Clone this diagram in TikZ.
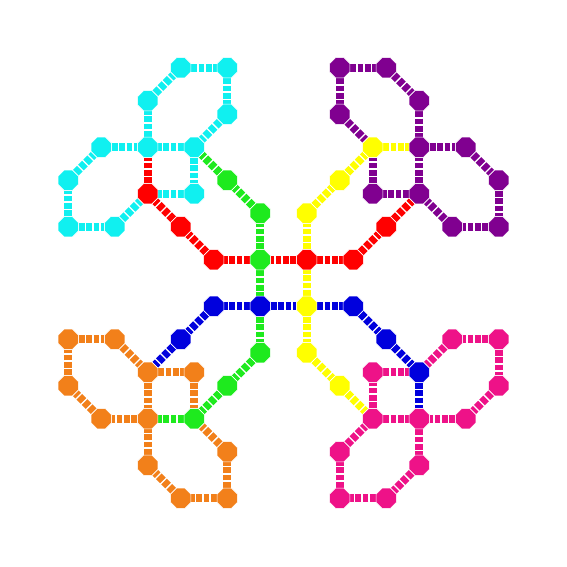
\documentclass[tikz,border=0pt]{standalone}
\usetikzlibrary{shapes.geometric}
\pgfdeclarelayer{bg}
\pgfsetlayers{bg,main}
\definecolor{cR}{HTML}{FF0000}
\definecolor{cG}{HTML}{1EEA1E}
\definecolor{cY}{HTML}{FFFF00}
\definecolor{cB}{HTML}{0000DD}
\definecolor{cC}{HTML}{10F0F0}
\definecolor{cP}{HTML}{800090}
\definecolor{cO}{HTML}{F2801A}
\definecolor{cK}{HTML}{EE1288}
\tikzset{
  oct/.style={regular polygon,regular polygon sides=8,minimum size=22pt,inner sep=0pt,draw=white,line width=0.6pt},
  link/.style={line width=8pt,dash pattern=on 5.8pt off 1.6pt}
}
% #1 rotation, #2 prefix, #3 petal colour, #4 A colour, #5 B colour
\newcommand{\petalnodes}[5]{%
  \begin{scope}[rotate=#1]
    \node[oct,fill=#4] (#2c0) at (23.25,23.25) {};
    \node[oct,fill=#4] (#2a1) at (69.75,23.25) {};
    \node[oct,fill=#4] (#2a2) at (102.75,56.25) {};
    \node[oct,fill=#3] (#2aE) at (135.75,89.25) {};
    \node[oct,fill=#5] (#2b1) at (23.25,69.75) {};
    \node[oct,fill=#5] (#2b2) at (56.25,102.75) {};
    \node[oct,fill=#5] (#2bE) at (89.25,135.75) {};
    \node[oct,fill=#3] (#2p1) at (56.25,215.25) {};
    \node[oct,fill=#3] (#2p2) at (102.75,215.25) {};
    \node[oct,fill=#3] (#2p3) at (135.75,182.25) {};
    \node[oct,fill=#3] (#2p4) at (56.25,168.75) {};
    \node[oct,fill=#3] (#2p5) at (135.75,135.75) {};
    \node[oct,fill=#3] (#2p6) at (182.25,135.75) {};
    \node[oct,fill=#3] (#2p7) at (215.25,102.75) {};
    \node[oct,fill=#3] (#2p8) at (89.25,89.25) {};
    \node[oct,fill=#3] (#2p9) at (168.75,56.25) {};
    \node[oct,fill=#3] (#2p10) at (215.25,56.25) {};
  \end{scope}}
% #1 prefix, #2 previous prefix, #3 petal colour, #4 A colour, #5 B colour
\newcommand{\petaledges}[5]{%
  \draw[link,#4] (#1c0) -- (#1a1);
  \draw[link,#4] (#1a1) -- (#1a2);
  \draw[link,#4] (#1a2) -- (#1aE);
  \draw[link,#5] (#2c0) -- (#1c0);
  \draw[link,#5] (#1c0) -- (#1b1);
  \draw[link,#5] (#1b1) -- (#1b2);
  \draw[link,#5] (#1b2) -- (#1bE);
  \draw[link,#5] (#1bE) -- (#1p5);
  \draw[link,#3] (#1p1) -- (#1p2);
  \draw[link,#3] (#1p2) -- (#1p3);
  \draw[link,#3] (#1p3) -- (#1p5);
  \draw[link,#3] (#1p1) -- (#1p4);
  \draw[link,#3] (#1p4) -- (#1bE);
  \draw[link,#3] (#1p5) -- (#1p6);
  \draw[link,#3] (#1p6) -- (#1p7);
  \draw[link,#3] (#1p7) -- (#1p10);
  \draw[link,#3] (#1p10) -- (#1p9);
  \draw[link,#3] (#1p9) -- (#1aE);
  \draw[link,#3] (#1aE) -- (#1p5);
  \draw[link,#3] (#1aE) -- (#1p8);
  \draw[link,#3] (#1p8) -- (#1bE);}
\begin{document}
\begin{tikzpicture}[x=1pt,y=1pt]
  \useasboundingbox (-283.5,-284) rectangle (283.5,283);
  \petalnodes{0}{tr}{cP}{cR}{cY}
  \petalnodes{90}{tl}{cC}{cG}{cR}
  \petalnodes{180}{bl}{cO}{cB}{cG}
  \petalnodes{270}{br}{cK}{cY}{cB}
  \begin{pgfonlayer}{bg}
    \fill[white] (-283.5,-284) rectangle (283.5,283);
    \petaledges{tr}{br}{cP}{cR}{cY}
    \petaledges{tl}{tr}{cC}{cG}{cR}
    \petaledges{bl}{tl}{cO}{cB}{cG}
    \petaledges{br}{bl}{cK}{cY}{cB}
  \end{pgfonlayer}
\end{tikzpicture}
\end{document}
